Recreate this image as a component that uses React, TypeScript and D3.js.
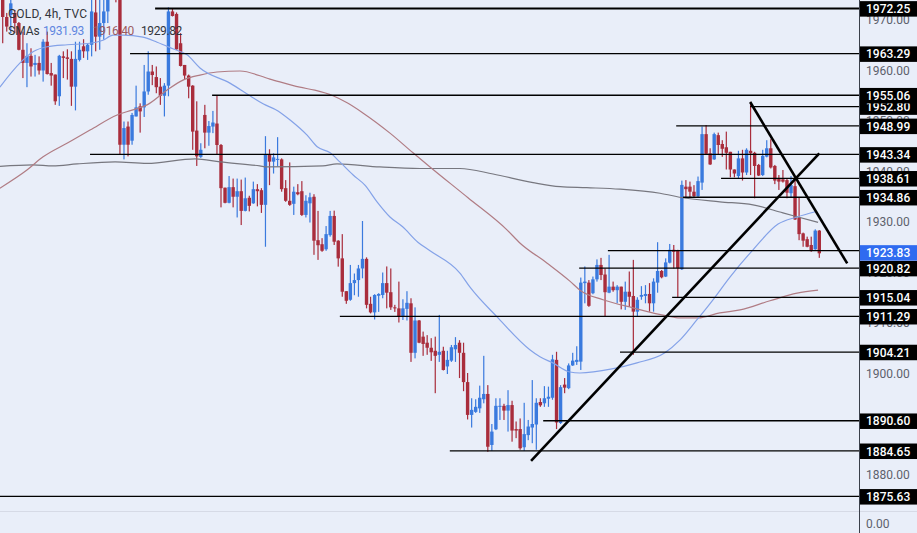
import React from 'react';
import * as d3 from 'd3';

const opens = [
  1976, 1970.5, 1970.9, 1971.3, 1969.3, 1964, 1961.4, 1962.8, 1961, 1961.4,
  1959.9, 1965.6, 1959.4, 1959.1, 1954.8, 1962.7, 1962.5, 1962.2, 1956.7, 1962,
  1964.7, 1963.7, 1965, 1971.4, 1966.6, 1969.3, 1971.6, 1982, 1980, 1979,
  1945.2, 1948.8, 1946, 1950.8, 1952.8, 1952.6, 1955.75, 1959.7, 1958.6, 1956.7,
  1954.9, 1956.9, 1971.6, 1971.1, 1965.3, 1961, 1958.9, 1956.9, 1948, 1942.8,
  1951.1, 1947.6, 1948.8, 1949.4, 1945.15, 1936.7, 1933.7, 1936.8, 1934.9, 1936,
  1932.1, 1934.7, 1933.6, 1936.4, 1936.2, 1933.3, 1943.2, 1941.85, 1942.25, 1942.3,
  1936.6, 1934.1, 1933.5, 1935.8, 1936, 1931.3, 1933.6, 1934.9, 1926.3, 1925.5,
  1924.5, 1927.3, 1931.1, 1926.2, 1922.7, 1916.2, 1914.5, 1917.8, 1918.4, 1920.7,
  1922.6, 1913.7, 1912, 1915.3, 1915.45, 1917.8, 1916, 1913, 1912.8, 1911.2,
  1912.7, 1913.8, 1904, 1910.4, 1907.2, 1906, 1905, 1904.4, 1903.6, 1904.4,
  1901.3, 1902.45, 1904.7, 1906, 1904, 1898.2, 1891.7, 1892.3, 1893, 1894.8,
  1895.85, 1885.75, 1888.85, 1893.3, 1893.5, 1892.55, 1893.65, 1888.9, 1888.9, 1885.3,
  1887.7, 1889.2, 1889.8, 1894.25, 1894, 1894.9, 1895.1, 1902.6, 1890.1, 1897.7,
  1897, 1901.5, 1902.2, 1902.25, 1917.8, 1917.9, 1915.8, 1918.55, 1921.4, 1919.5,
  1915.9, 1917.1, 1916.4, 1917.1, 1914.1, 1916.1, 1915.25, 1912.15, 1915.1, 1915.25,
  1915.65, 1913.8, 1917.9, 1920.2, 1919.1, 1921.85, 1924.4, 1924.2, 1920.55, 1936.9,
  1936.9, 1935.9, 1935.05, 1937.7, 1947.3, 1943.5, 1942.3, 1947.1, 1945.35, 1944.7,
  1943.8, 1940.3, 1939, 1942.5, 1939.7, 1944, 1943.6, 1941.2, 1939.2, 1942.85,
  1944.5, 1941, 1938.4, 1938.35, 1938.2, 1935.6, 1937, 1930.75, 1927.65, 1926.5,
  1925.35, 1924.5, 1928.2,
];

const highs = [
  1978, 1971.3, 1976, 1971.9, 1969.5, 1967.6, 1965.3, 1964.3, 1963, 1962.7,
  1966.1, 1967.6, 1961.4, 1959.1, 1963, 1963.7, 1964.1, 1963.7, 1965.6, 1965.6,
  1966.1, 1965.3, 1975, 1976, 1975, 1976, 1977, 1984, 1981, 1980,
  1949.8, 1949.8, 1951.5, 1956.9, 1953.4, 1961, 1963.7, 1961, 1960.7, 1958.4,
  1957.4, 1972.4, 1972.2, 1971.4, 1967.3, 1961, 1959.1, 1957, 1953.8, 1945.5,
  1953.1, 1949.9, 1951.9, 1955.05, 1945.35, 1936.7, 1939, 1938.5, 1938.5, 1938.3,
  1938.7, 1935.1, 1937.9, 1937.4, 1936.6, 1946.9, 1944.3, 1943.5, 1946.7, 1942.5,
  1938.2, 1941.7, 1936.9, 1937.4, 1938, 1935.2, 1935.7, 1935.4, 1932.1, 1926.7,
  1929.1, 1932.1, 1932.15, 1926.3, 1927.5, 1916.2, 1921.4, 1919.7, 1921.4, 1930.1,
  1922.9, 1915.1, 1915.6, 1915.8, 1919.9, 1921.1, 1920.7, 1913.5, 1918.1, 1914.6,
  1916.2, 1914.8, 1913, 1910.5, 1908.2, 1907.5, 1906.9, 1907.2, 1911.5, 1905.2,
  1904.4, 1905.55, 1907.1, 1906.5, 1906, 1900, 1895, 1894.8, 1897.5, 1903.4,
  1897.6, 1889.9, 1895, 1895, 1893.9, 1896.6, 1894.5, 1890.4, 1891, 1894.1,
  1890.7, 1898.6, 1895, 1895, 1897.4, 1897.3, 1903.6, 1904.2, 1897.6, 1899,
  1901.9, 1904, 1905.3, 1918.9, 1921.1, 1918.4, 1919.1, 1922.5, 1922.8, 1920.7,
  1923.4, 1918.1, 1917.4, 1917.1, 1918.1, 1920.1, 1922.4, 1915, 1917.2, 1917.4,
  1917.8, 1918.75, 1925.9, 1920.4, 1922.7, 1925.55, 1925.35, 1924.4, 1938.1, 1938.2,
  1937.9, 1937.2, 1938.9, 1948.8, 1949.1, 1944.5, 1947.6, 1947.6, 1946.1, 1947.8,
  1943.8, 1940.3, 1944, 1944.2, 1944.5, 1953.7, 1943.8, 1941.4, 1944.2, 1946.1,
  1946.3, 1941.2, 1939.2, 1940.2, 1938.55, 1939, 1938.75, 1934.8, 1927.8, 1927,
  1927, 1928.45, 1928.3,
];

const lows = [
  1965.3, 1967.6, 1967.3, 1967.3, 1963.9, 1958.4, 1956.6, 1958.7, 1958.7, 1959.1,
  1957.7, 1959.1, 1956.9, 1953.1, 1952.9, 1958.4, 1958.1, 1952.9, 1952, 1961.7,
  1962.4, 1962, 1962.7, 1963.7, 1964, 1966, 1969.3, 1977, 1973.4, 1943.2,
  1942.3, 1942.9, 1945.2, 1950.8, 1947.6, 1950.7, 1955.1, 1957, 1955.4, 1953.1,
  1950.8, 1954.8, 1970.6, 1964, 1960.7, 1958.1, 1954.4, 1944.2, 1941, 1942.6,
  1944.5, 1945, 1947.5, 1943.2, 1932.8, 1933.6, 1933.6, 1932.8, 1930.8, 1929.3,
  1932, 1932, 1933.5, 1933, 1931.7, 1925, 1937.2, 1939.5, 1940.9, 1935.9,
  1933.9, 1933.1, 1931.3, 1935.2, 1931.1, 1930.8, 1929.8, 1923.4, 1922.4, 1924,
  1924.2, 1927, 1925.35, 1921.06, 1915.1, 1913.7, 1914.3, 1915.4, 1915.1, 1918.75,
  1912.8, 1911.8, 1910.6, 1912.1, 1914.8, 1912.8, 1912.5, 1912.1, 1910, 1910.5,
  1910.4, 1902.2, 1902.9, 1905.9, 1903.4, 1903.6, 1902.4, 1896, 1902.2, 1900.5,
  1899.8, 1902.2, 1902.2, 1899, 1896.4, 1890.8, 1889.2, 1892.1, 1892.1, 1894,
  1884.4, 1884.6, 1888.7, 1890.7, 1890.7, 1888.4, 1886.4, 1887.1, 1884.8, 1884.6,
  1886.7, 1886.1, 1884.8, 1893.3, 1893.3, 1893.3, 1894.7, 1888.9, 1889.9, 1896,
  1896.8, 1901.4, 1901.6, 1900.6, 1913.8, 1913.1, 1915.6, 1918.1, 1918.4, 1911.2,
  1915.8, 1916.1, 1913.8, 1912.6, 1912.5, 1913.1, 1903.6, 1911.2, 1914.5, 1913.8,
  1912.15, 1912.15, 1915.9, 1918.75, 1919, 1921.7, 1920.7, 1915, 1920.4, 1934.6,
  1934.8, 1934.8, 1934.8, 1936.25, 1943.2, 1941.2, 1942.2, 1943.2, 1942.8, 1940.3,
  1938.75, 1938.75, 1938.55, 1938.1, 1939.2, 1939.2, 1934.6, 1939, 1939, 1942.7,
  1940.5, 1937.4, 1936.25, 1937.7, 1934.6, 1934.8, 1930.3, 1926.3, 1925, 1924.9,
  1924, 1924.4, 1922.8,
];

const closes = [
  1970.5, 1968.6, 1973.2, 1969.3, 1964, 1961.4, 1962.8, 1960.7, 1961.4, 1959.9,
  1965.6, 1959.2, 1958.9, 1953.8, 1962.8, 1962.4, 1962.2, 1956.7, 1962.2, 1964,
  1963.7, 1965, 1971.6, 1966.6, 1969.3, 1971.6, 1974.5, 1979, 1975, 1945.2,
  1948.5, 1945.2, 1951.1, 1952.6, 1951.8, 1955.75, 1959.7, 1959, 1956.6, 1954.9,
  1956.9, 1971.6, 1970.7, 1964.1, 1960.8, 1958.9, 1956.7, 1947.8, 1942.9, 1944.2,
  1947.6, 1948.9, 1949.6, 1945.15, 1936.6, 1933.7, 1936.8, 1934.9, 1936, 1932.1,
  1934.6, 1933.1, 1936.4, 1936, 1933.3, 1943.2, 1941.85, 1942.7, 1942.4, 1936.4,
  1934.1, 1933.3, 1935.9, 1935.4, 1931.3, 1934.1, 1934.8, 1926.2, 1925.3, 1924.2,
  1927.5, 1931.1, 1926, 1922.7, 1916.1, 1914.3, 1917.8, 1918.4, 1920.7, 1922.6,
  1913.5, 1912, 1915.45, 1915.65, 1917.8, 1915.9, 1913, 1912.8, 1911.2, 1912.8,
  1913.9, 1904, 1910.4, 1906, 1905.75, 1905, 1904.1, 1903.4, 1904.2, 1900.6,
  1902.6, 1905.1, 1905.55, 1904, 1898.2, 1891.7, 1892.7, 1893.3, 1895.1, 1895.85,
  1885.4, 1888.4, 1893.5, 1893.5, 1892.55, 1893.65, 1888.6, 1888.6, 1885.1, 1887.9,
  1889.4, 1889.9, 1894.1, 1893.6, 1895, 1895.3, 1902.7, 1890.2, 1897.2, 1897.1,
  1901.5, 1902.45, 1902.6, 1917.9, 1918.1, 1913.3, 1918.55, 1921.4, 1919.4, 1916,
  1917.1, 1916.4, 1917.1, 1914.1, 1916.1, 1915.1, 1912.15, 1914.5, 1915.45, 1915.65,
  1913.8, 1918.1, 1920.2, 1918.95, 1921.9, 1924.4, 1924, 1920.75, 1937.25, 1936.4,
  1935.9, 1935.05, 1938, 1947.3, 1943.4, 1941.3, 1947.3, 1945.15, 1944.4, 1943.6,
  1940.3, 1939.5, 1942.5, 1939.7, 1944.2, 1943.5, 1941, 1939.1, 1943, 1944.5,
  1940.7, 1938.1, 1937.9, 1937.9, 1935.7, 1937.2, 1930.4, 1927.5, 1926.2, 1925,
  1924.15, 1928.2, 1923.7,
];

const smaFastBars = [-0.7, 4.3, 7.5, 11, 16, 21.6, 24.8, 27.3, 29.8, 34.7, 38.2, 42.1, 45.6, 48.8, 56.2, 61.9, 64.4, 68.1, 71.1, 75.3, 77.8, 81, 83.4, 86.7, 89.6, 92.6, 95.8, 99, 102.7, 105.7, 113.1, 115.6, 122.3, 130.4, 132.9, 136.1, 140.3, 142.8, 150.7, 156.9, 163.8, 167.5, 171.7, 175.7, 179.9, 185.6, 191.8, 196.5, 201];
const smaFastValues = [1956.6, 1961.4, 1963.6, 1964.6, 1965, 1965.3, 1965.9, 1966.9, 1966.9, 1966.5, 1965.5, 1964.2, 1963, 1960.4, 1957.4, 1954.5, 1953.3, 1951.9, 1950.1, 1947.1, 1944.8, 1943.6, 1941.8, 1939.2, 1937.2, 1933.9, 1930.9, 1928.9, 1925.9, 1924.2, 1919.8, 1917, 1911.1, 1904.6, 1903.2, 1902, 1900.2, 1900, 1900.8, 1902, 1904, 1906.5, 1910.5, 1914.5, 1919, 1924.4, 1929.5, 1930.9, 1931.93];

const smaMidBars = [-0.7, 6, 10, 15.9, 21.6, 28.3, 32.2, 35.7, 40.6, 44.6, 48.8, 53, 58.7, 66.1, 73.5, 77.2, 81.7, 85.2, 89.1, 95.8, 101.5, 105.7, 115.1, 124.8, 128, 134.6, 140.3, 142.8, 148.5, 155.9, 164.3, 167.5, 172, 177.4, 182.4, 189.8, 196.5, 201.7];
const smaMidValues = [1936.6, 1940.2, 1942.8, 1945.5, 1948.1, 1951.1, 1952.1, 1953.1, 1956, 1958, 1959, 1959.6, 1959.8, 1958.2, 1956.6, 1956, 1954.9, 1953.5, 1951.5, 1947.5, 1943.6, 1940.8, 1934.7, 1928.3, 1925.7, 1921.8, 1918.2, 1916.4, 1914.5, 1912.9, 1911.3, 1910.9, 1910.9, 1911.9, 1912.5, 1914.3, 1915.8, 1916.4];

const smaSlowBars = [-0.7, 7.5, 12.4, 18.4, 27.8, 35.7, 47.6, 53.8, 63.6, 65.4, 79.2, 82.7, 93.3, 103.2, 113.1, 121.3, 131.2, 137.9, 144.5, 152.7, 162.6, 168.3, 177.4, 185.6, 193, 201.7];
const smaSlowValues = [1940.9, 1941.2, 1941, 1941.4, 1941.8, 1941.5, 1942.4, 1941.8, 1941, 1940.8, 1941, 1941.4, 1940.8, 1940.5, 1940.5, 1939.4, 1937.7, 1936.9, 1936.7, 1936.4, 1935.6, 1934.7, 1933.9, 1933.3, 1931.7, 1929.82];

// horizontal levels and the bar each one starts at
const levelPrices = [1972.25, 1963.29, 1955.06, 1952.8, 1948.99, 1943.34, 1938.61, 1934.86, 1924.3, 1920.82, 1915.04, 1911.29, 1904.21, 1890.6, 1884.65, 1875.63];
const levelStartBars = [37.7, 31.5, 51.8, 184.9, 166.6, 21.6, 177.7, 168.3, 149.7, 142.6, 165.6, 83.4, 152.7, 133.7, 110.6, -0.7];

const labelPrices = [1875.63, 1884.65, 1890.6, 1904.21, 1911.29, 1915.04, 1920.82, 1934.86, 1938.61, 1943.34, 1948.99, 1952.8, 1955.06, 1963.29, 1972.25];
const lastPrice = 1923.83;
const priceTicks = [1970, 1960, 1950, 1940, 1930, 1920, 1910, 1900, 1890, 1880];

const trendUp: [number, number][] = [[130.7, 1882.6], [202, 1943.5]];
const trendDown: [number, number][] = [[184.9, 1953.66], [208.9, 1921.7]];

const WIDTH = 917;
const HEIGHT = 533;
const AXIS_X = 859;
const BG = '#e9eef9';
const UP = '#3a7ade';
const DOWN = '#a92d3c';
const FONT = 'Roboto, sans-serif';

const x = d3.scaleLinear().domain([0, 202]).range([2.7, 819.3]);
const y = d3.scaleLinear().domain([1960, 1880]).range([70, 474]);

const maLine = d3.line<[number, number]>()
  .x((d) => x(d[0]))
  .y((d) => y(d[1]))
  .curve(d3.curveMonotoneX);

const App: React.FC = () => {
  const mas = [
    { bars: smaSlowBars, values: smaSlowValues, color: '#77777f' },
    { bars: smaMidBars, values: smaMidValues, color: '#b07c84' },
    { bars: smaFastBars, values: smaFastValues, color: '#84a2e8' },
  ];

  return (
    <svg width={WIDTH} height={HEIGHT} style={{ position: 'absolute', left: 0, top: 0, display: 'block' }} fontFamily={FONT}>
      <rect width={WIDTH} height={HEIGHT} fill={BG} />

      <g>
        {opens.map((o, i) => {
          const c = closes[i];
          const color = c >= o ? UP : DOWN;
          const cx = x(i);
          const top = y(Math.max(o, c));
          const bottom = y(Math.min(o, c));
          return (
            <g key={i} fill={color}>
              <rect x={cx - 0.6} y={y(highs[i])} width={1.2} height={y(lows[i]) - y(highs[i])} />
              <rect x={cx - 1.7} y={top} width={3.4} height={Math.max(1, bottom - top)} />
            </g>
          );
        })}
      </g>

      {mas.map((m) => (
        <path
          key={m.color}
          d={maLine(m.bars.map((b, i) => [b, m.values[i]] as [number, number])) ?? ''}
          fill="none"
          stroke={m.color}
          strokeWidth={1.2}
        />
      ))}

      <line x1={0} x2={WIDTH} y1={511.5} y2={511.5} stroke="#d6dae6" />

      <g stroke="#000">
        {levelPrices.map((p, i) => (
          <line key={p} x1={x(levelStartBars[i])} x2={AXIS_X} y1={y(p) + 0.3} y2={y(p) + 0.3} strokeWidth={i === 0 ? 2 : 1.3} />
        ))}
      </g>

      <g stroke="#000" strokeWidth={2.6}>
        {[trendUp, trendDown].map((t, i) => (
          <line key={i} x1={x(t[0][0])} y1={y(t[0][1])} x2={x(t[1][0])} y2={y(t[1][1])} />
        ))}
      </g>

      <line x1={AXIS_X + 0.5} x2={AXIS_X + 0.5} y1={0} y2={HEIGHT} stroke="#3a3f4a" />

      <g fontSize={12} fill="#5d616c" textAnchor="start">
        {priceTicks.map((t) => (
          <text key={t} x={866} y={y(t) + 4.5}>{t.toFixed(2)}</text>
        ))}
        <text x={866} y={527.5}>0.00</text>
      </g>

      <g fontSize={12} fontWeight={500} textAnchor="start">
        {labelPrices.map((p) => (
          <g key={p}>
            <rect x={AXIS_X + 1} y={y(p) - 7} width={WIDTH - AXIS_X - 1} height={15.5} fill="#000" />
            <text x={866} y={y(p) + 5} fill="#fff">{p.toFixed(2)}</text>
          </g>
        ))}
        <rect x={AXIS_X + 1} y={y(lastPrice) - 7.5} width={WIDTH - AXIS_X - 1} height={15.5} fill="#2f6bf0" />
        <text x={866} y={y(lastPrice) + 4.5} fill="#fff">{lastPrice.toFixed(2)}</text>
      </g>

      <g fontSize={12}>
        <text x={8} y={18} fill="#33353b" letterSpacing={0.2}>GOLD, 4h, TVC</text>
        <text x={8} y={35} fill="#33353b">SMAs</text>
        <g letterSpacing={-0.4}>
          <text x={43} y={35} fill="#5f86e0">{smaFastValues[smaFastValues.length - 1].toFixed(2)}</text>
          <text x={93} y={35} fill="#9c5a60">{smaMidValues[smaMidValues.length - 1].toFixed(2)}</text>
          <text x={141} y={35} fill="#33353b">{smaSlowValues[smaSlowValues.length - 1].toFixed(2)}</text>
        </g>
      </g>
    </svg>
  );
};

export default App;
